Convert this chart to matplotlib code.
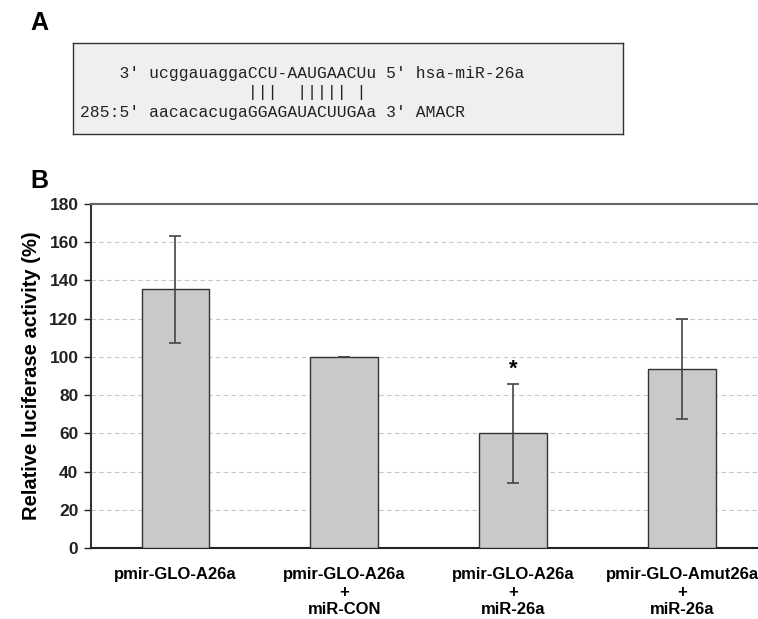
import matplotlib
matplotlib.use("Agg")
from matplotlib import pyplot as plt

# panel B data
groups = ["pmir-GLO-A26a", "pmir-GLO-A26a\n+\nmiR-CON",
          "pmir-GLO-A26a\n+\nmiR-26a", "pmir-GLO-Amut26a\n+\nmiR-26a"]
activity = [135.5, 100.0, 60.0, 93.8]
errors = [28.0, 0.0, 26.0, 26.2]
yticks = [0, 20, 40, 60, 80, 100, 120, 140, 160, 180]
signif = ["", "", "*", ""]

# panel A alignment text
align_lines = [
    "    3' ucggauaggaCCU-AAUGAACUu 5' hsa-miR-26a",
    "                 |||  ||||| |",
    "285:5' aacacacugaGGAGAUACUUGAa 3' AMACR",
]

plt.rcParams['font.family'] = ['Liberation Sans', 'DejaVu Sans']

fig = plt.figure(figsize=(7.58, 6.19), dpi=100)

# --- panel A ---
axa = fig.add_axes([0.0963, 0.7835, 0.7255, 0.147])
axa.set_facecolor("#efefef")
axa.set_xticks([])
axa.set_yticks([])
for s in axa.spines.values():
    s.set_color("#333333")
    s.set_linewidth(1.0)
ypos = [0.67, 0.46, 0.24]
for line, yy in zip(align_lines, ypos):
    axa.text(0.013, yy, line, transform=axa.transAxes, family="Liberation Mono",
             fontsize=11.8, color="#222222", va="center", ha="left")
fig.text(0.040, 0.963, "A", fontsize=18, fontweight="bold", va="center", ha="left")
fig.text(0.040, 0.708, "B", fontsize=18, fontweight="bold", va="center", ha="left")

# --- panel B ---
ax = fig.add_axes([0.120, 0.1147, 0.880, 0.5557])
x = list(range(len(groups)))
ax.bar(x, activity, width=0.40, color="#c8c9cb", edgecolor="#333333", linewidth=1.0, zorder=3)
ax.errorbar(x, activity, yerr=errors, fmt="none", ecolor="#444444", elinewidth=1.2,
            capsize=4, capthick=1.2, zorder=4)
for xi, v, e, s in zip(x, activity, errors, signif):
    if s:
        ax.text(xi, v + e + 2, s, ha="center", va="bottom", fontsize=16, fontweight="bold")

ax.set_xlim(-0.5, 3.45)
ax.set_ylim(0, 180)
ax.set_yticks(yticks)
ax.set_yticklabels([str(t) for t in yticks], fontsize=12.5, fontweight="bold")
ax.set_xticks(x)
ax.set_xticklabels(groups, fontsize=12, fontweight="bold", linespacing=1.2)
ax.tick_params(axis="x", length=0, pad=14)
ax.tick_params(axis="y", length=5, width=1, direction="out", pad=4, colors="#222222")
ax.yaxis.grid(True, linestyle=(0, (4, 3)), color="#c8c8c8", linewidth=0.8, zorder=0)
ax.set_axisbelow(True)
ax.set_ylabel("Relative luciferase activity (%)", fontsize=14.5, fontweight="bold", labelpad=6)

ax.spines["right"].set_visible(False)
ax.spines["top"].set_color("#666666")
ax.spines["top"].set_linewidth(1.5)
ax.spines["left"].set_color("#333333")
ax.spines["left"].set_linewidth(1.5)
ax.spines["bottom"].set_color("#222222")
ax.spines["bottom"].set_linewidth(1.5)

fig.savefig("out.png", dpi=100)
